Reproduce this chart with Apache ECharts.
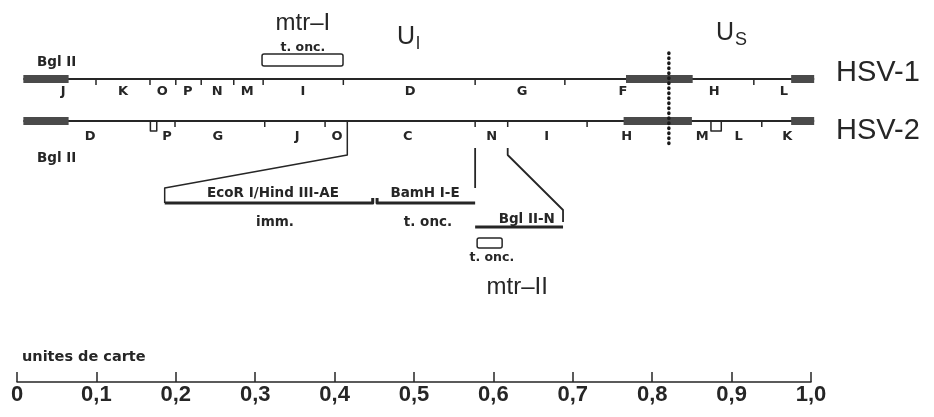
<!DOCTYPE html>
<html>
<head>
<meta charset="utf-8">
<script src="https://cdn.jsdelivr.net/npm/echarts@6/dist/echarts.min.js"></script>
<style>
  html, body { margin: 0; padding: 0; background: #fff; }
  #chart { width: 934px; height: 417px; }
</style>
</head>
<body>
<div id="chart"></div>
<script>
// positions en unites de carte (0 - 1,0)
const scaleLabels = ['0', '0,1', '0,2', '0,3', '0,4', '0,5', '0,6', '0,7', '0,8', '0,9', '1,0']

const genomeSpan = [0.008, 1.004]
const junction = 0.821

// HSV-1, Bgl II
const hsv1Blocks = [[0.008, 0.065], [0.767, 0.851], [0.975, 1.004]]
const hsv1Cuts = [0.0995, 0.1675, 0.200, 0.232, 0.273, 0.310, 0.411, 0.577, 0.690, 0.928]
const hsv1Frags = ['J', 'K', 'O', 'P', 'N', 'M', 'I', 'D', 'G', 'F', 'H', 'L']
const hsv1FragPos = [0.058, 0.1335, 0.183, 0.215, 0.252, 0.290, 0.360, 0.495, 0.636, 0.763, 0.878, 0.966]

// HSV-2, Bgl II
const hsv2Blocks = [[0.008, 0.065], [0.764, 0.850], [0.975, 1.004]]
const hsv2Cuts = [0.199, 0.312, 0.388, 0.416, 0.577, 0.618, 0.718, 0.938]
const hsv2Small = [[0.168, 0.176], [0.874, 0.887]]
const hsv2Frags = ['D', 'P', 'G', 'J', 'O', 'C', 'N', 'I', 'H', 'M', 'L', 'K']
const hsv2FragPos = [0.092, 0.189, 0.253, 0.353, 0.403, 0.492, 0.598, 0.667, 0.768, 0.863, 0.909, 0.970]

// regions transformantes
const mtr1Box = [0.3086, 0.4106]
const mtr2Box = [0.5795, 0.611]
const ecoRange = [0.186, 0.448]
const bamRange = [0.4535, 0.577]
const bglNRange = [0.577, 0.6877]

// textes : [texte, position]
const topNotes = [['mtr–I', 0.360], ['t. onc.', 0.360]]
const fragNotes = [['EcoR I/Hind III-AE', 0.3224], ['BamH I-E', 0.5139], ['imm.', 0.325], ['t. onc.', 0.5176], ['Bgl II-N', 0.642]]
const mtr2Notes = [['t. onc.', 0.598], ['mtr–II', 0.630]]
const strainNames = ['HSV-1', 'HSV-2']
const strainPos = 1.0315
const regionPos = [0.493, 0.900]
const bglPos = 0.050
const scaleTitle = ['unites de carte', 0.0063]

// rangées verticales (unites de l'axe y)
const Y = {
  mtr1: 23, mtr1Note: 48, mtr1Box: [54, 66],
  ul: 37, us: 33, bgl1: 62,
  hsv1: 79, hsv1Lab: 92, hsv2: 121, hsv2Lab: 137, bgl2: 158,
  dots: [53, 145],
  elbow: 155, fragTop: 188, fragBar: 203, fragText: 193, fragSub: 222,
  bglNElbow: 210, bglNEnd: 222, bglNBar: 227, bglNText: 219,
  mtr2Box: [238, 248], mtr2Note: 258, mtr2: 287,
  scaleTitle: 357
}

const ink = '#262626'
const blockInk = '#4a4a4a'
const smallFont = 'DejaVu Sans'
const bigFont = 'Liberation Sans'

function renderMap(params, api) {
  const c = (x, y) => api.coord([x, y])
  const kids = []
  const line = (pts, w, color) => kids.push({
    type: 'polyline',
    shape: { points: pts.map(q => c(q[0], q[1])) },
    style: { stroke: color || ink, lineWidth: w || 1.5, fill: null, lineJoin: 'round' }
  })
  const block = (x0, x1, y, h) => {
    const a = c(x0, y - h / 2)
    const b = c(x1, y + h / 2)
    kids.push({ type: 'rect', shape: { x: a[0], y: a[1], width: b[0] - a[0], height: b[1] - a[1] }, style: { fill: blockInk } })
  }
  const box = (x0, x1, y0, y1) => {
    const a = c(x0, y0)
    const b = c(x1, y1)
    kids.push({ type: 'rect', shape: { x: a[0], y: a[1], width: b[0] - a[0], height: b[1] - a[1], r: 2 }, style: { fill: '#fff', stroke: ink, lineWidth: 1.5 } })
  }
  const text = (t, x, y, size, family, weight, align) => {
    const p = c(x, y)
    kids.push({
      type: 'text', x: p[0], y: p[1],
      style: { text: t, fill: ink, fontSize: size, fontFamily: family, fontWeight: weight || 'normal', align: align || 'center', verticalAlign: 'middle' }
    })
  }

  // deux genomes
  ;[[Y.hsv1, hsv1Blocks, hsv1Cuts], [Y.hsv2, hsv2Blocks, hsv2Cuts]].forEach(([y, blocks, cuts]) => {
    line([[genomeSpan[0], y], [genomeSpan[1], y]], 1.8)
    blocks.forEach(b => block(b[0], b[1], y, 8))
    cuts.forEach(x => line([[x, y], [x, y + 6]], 1.5))
  })
  hsv2Small.forEach(s => line([[s[0], Y.hsv2], [s[0], Y.hsv2 + 10], [s[1], Y.hsv2 + 10], [s[1], Y.hsv2]], 1.5))

  // jonction U_L / U_S
  const d0 = c(junction, Y.dots[0])
  const d1 = c(junction, Y.dots[1])
  kids.push({ type: 'line', shape: { x1: d0[0], y1: d0[1], x2: d1[0], y2: d1[1] }, style: { stroke: '#1a1a1a', lineWidth: 3.5, lineDash: [0.5, 4.5], lineCap: 'round' } })

  hsv1Frags.forEach((f, i) => text(f, hsv1FragPos[i], Y.hsv1Lab, 13, smallFont, 'bold'))
  hsv2Frags.forEach((f, i) => text(f, hsv2FragPos[i], Y.hsv2Lab, 13, smallFont, 'bold'))
  text('Bgl II', bglPos, Y.bgl1, 13.5, smallFont, 'bold')
  text('Bgl II', bglPos, Y.bgl2, 13.5, smallFont, 'bold')
  strainNames.forEach((s, i) => text(s, strainPos, i ? 131 : 73, 29, bigFont, 'normal', 'left'))

  // mtr-I
  text(topNotes[0][0], topNotes[0][1], Y.mtr1, 24, bigFont)
  text(topNotes[1][0], topNotes[1][1], Y.mtr1Note, 12.5, smallFont, 'bold')
  box(mtr1Box[0], mtr1Box[1], Y.mtr1Box[0], Y.mtr1Box[1])

  // U_L et U_S
  ;[['l', Y.ul], ['S', Y.us]].forEach(([sub, y], i) => {
    const p = c(regionPos[i], y)
    kids.push({
      type: 'text', x: p[0], y: p[1],
      style: {
        text: '{u|U}{s|' + sub + '}', align: 'center', verticalAlign: 'middle',
        rich: {
          u: { fontSize: 25, fontFamily: bigFont, fill: ink },
          s: { fontSize: 18, fontFamily: bigFont, fill: ink, padding: [14, 0, 0, 1] }
        }
      }
    })
  })

  // agrandissement HSV-2
  const oCut = hsv2Cuts[3]
  const nCut = hsv2Cuts[4]
  const n2Cut = hsv2Cuts[5]
  line([[oCut, Y.hsv2 + 6], [oCut, Y.elbow], [ecoRange[0], Y.fragTop], [ecoRange[0], Y.fragBar]], 1.5)
  line([[nCut, Y.hsv2 + 27], [nCut, Y.fragTop]], 1.8)
  line([[ecoRange[0], Y.fragBar], [ecoRange[1], Y.fragBar], [ecoRange[1], Y.fragBar - 5]], 3)
  line([[bamRange[0], Y.fragBar - 5], [bamRange[0], Y.fragBar], [bamRange[1], Y.fragBar]], 3)
  line([[n2Cut, Y.hsv2 + 27], [n2Cut, Y.hsv2 + 34], [bglNRange[1], Y.bglNElbow], [bglNRange[1], Y.bglNEnd]], 1.8)
  line([[bglNRange[0], Y.bglNBar], [bglNRange[1], Y.bglNBar]], 3)

  text(fragNotes[0][0], fragNotes[0][1], Y.fragText, 13.5, smallFont, 'bold')
  text(fragNotes[1][0], fragNotes[1][1], Y.fragText, 13.5, smallFont, 'bold')
  text(fragNotes[2][0], fragNotes[2][1], Y.fragSub, 13.5, smallFont, 'bold')
  text(fragNotes[3][0], fragNotes[3][1], Y.fragSub, 13.5, smallFont, 'bold')
  text(fragNotes[4][0], fragNotes[4][1], Y.bglNText, 13.5, smallFont, 'bold')

  box(mtr2Box[0], mtr2Box[1], Y.mtr2Box[0], Y.mtr2Box[1])
  text(mtr2Notes[0][0], mtr2Notes[0][1], Y.mtr2Note, 12.5, smallFont, 'bold')
  text(mtr2Notes[1][0], mtr2Notes[1][1], Y.mtr2, 24, bigFont)

  text(scaleTitle[0], scaleTitle[1], Y.scaleTitle, 14.5, smallFont, 'bold', 'left')

  return { type: 'group', children: kids }
}

const chart = echarts.init(document.getElementById('chart'))
chart.setOption({
  animation: false,
  backgroundColor: '#fff',
  grid: { left: 17, right: 123, top: 0, bottom: 35 },
  xAxis: {
    type: 'value', min: 0, max: 1, interval: 0.1, position: 'bottom',
    splitLine: { show: false },
    axisLine: { onZero: false, lineStyle: { color: ink, width: 1.5 } },
    axisTick: { inside: true, length: 10, lineStyle: { color: ink, width: 1.5 } },
    axisLabel: {
      margin: 2, fontSize: 22, fontWeight: 'bold', fontFamily: bigFont, color: ink,
      formatter: v => scaleLabels[Math.round(v * 10)]
    }
  },
  yAxis: { type: 'value', min: 0, max: 382, inverse: true, show: false },
  series: [{
    type: 'custom',
    renderItem: renderMap,
    data: [[0, 0]],
    clip: false,
    silent: true
  }]
})
</script>
</body>
</html>
